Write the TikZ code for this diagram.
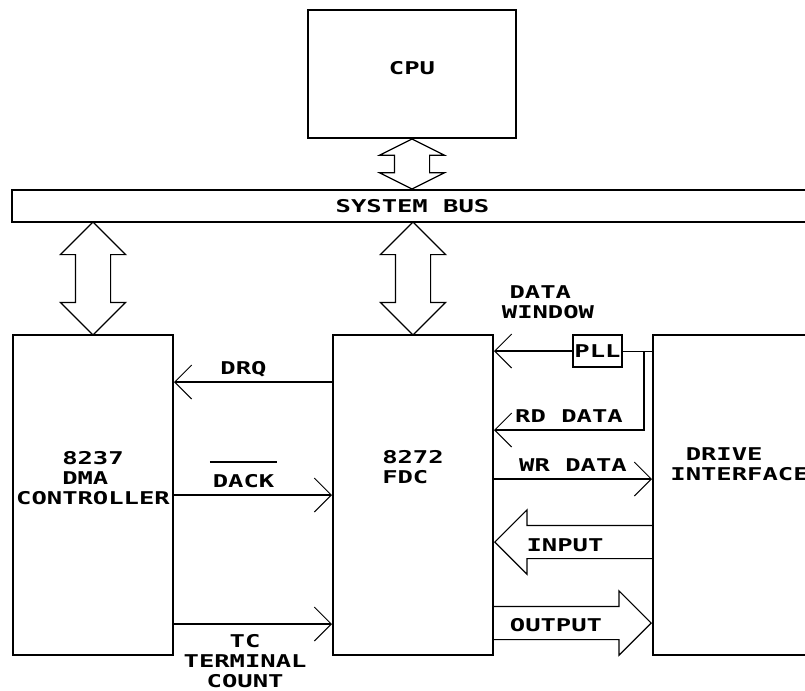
\documentclass[tikz,border=0pt]{standalone}
\usepackage{fontspec}
\newfontfamily\pixfont[FakeStretch=1.45]{DejaVu Sans Mono Bold}
\usepackage{tikz}
\usetikzlibrary{arrows.meta,positioning,calc,shapes.arrows}

\tikzset{
  blk/.style={draw,line width=1pt,inner sep=0pt},
  lbl/.style={inner sep=0pt,text height=6.4pt,text depth=0pt},
  sig/.style={line width=1pt,-{Straight Barb[length=8.5pt,width=17pt,line width=0.5pt]}},
  busarrow/.style={draw,double arrow,line width=0.6pt,inner xsep=0pt,inner ysep=8.5pt,
    double arrow head extend=7.5pt,double arrow tip angle=90,rotate=90},
  fatarrow/.style={draw,single arrow,line width=0.6pt,inner xsep=0pt,inner ysep=8pt,
    single arrow head extend=7.8pt,single arrow tip angle=90,minimum height=79pt,anchor=tip}
}

\begin{document}
\begin{tikzpicture}[x=0.5pt,y=-0.5pt,font=\pixfont\fontsize{8.8}{10}\selectfont]
\useasboundingbox (0,0) rectangle (805,691);

% blocks
\node[blk,lbl,text depth=6pt,minimum width=104pt,minimum height=64pt] (cpu) at (412,74) {CPU};
\node[blk,lbl,minimum width=400.5pt,minimum height=16pt] (bus) at (412.5,206) {SYSTEM BUS};
\node[blk,minimum width=80pt,minimum height=160pt] (dma) at (93,495) {};
\node[blk,minimum width=80pt,minimum height=160pt] (fdc) at (413,495) {};
\node[blk,minimum width=88.5pt,minimum height=160pt] (drv) at (741.5,495) {};
\node[blk,lbl,minimum width=24.5pt,minimum height=16pt] (pll) at (597.5,351) {PLL};

\node[align=center,inner sep=0pt] (dmatxt) at (93,478) {8237\\DMA\phantom{A}\\CONTROLLER};
\node[align=center,inner sep=0pt] (fdctxt) at (413,467) {8272\\FDC\phantom{A}};
\node[align=left,anchor=west,inner sep=0pt] (drvtxt) at (670,464) {\phantom{A}DRIVE\\INTERFACE};

% bus links
\node[busarrow,minimum height=25pt,double arrow tip angle=127] (cpubus) at ($(cpu.south)!0.5!(bus.north -| cpu)$) {};
\node[busarrow,minimum height=56.5pt] (dmabus) at ($(bus.south -| dma)!0.5!(dma.north)$) {};
\node[busarrow,minimum height=56.5pt] (fdcbus) at ($(bus.south -| fdc)!0.5!(fdc.north)$) {};

% dma <-> fdc
\draw[sig] ([yshift=-24pt]fdc.north west) -- ([yshift=-24pt]dma.north east)
  node[lbl,pos=0.56,above=3.5pt] (drq) {DRQ};
\draw[sig] (dma.east) -- (fdc.west) node[lbl,pos=0.44,above=3.5pt] (dack) {DACK};
\draw[line width=0.8pt] ([xshift=-1pt,yshift=5.5pt]dack.north west) -- ([xshift=1pt,yshift=5.5pt]dack.north east);
\draw[sig] ([yshift=16pt]dma.south east) -- ([yshift=16pt]fdc.south west)
  node[pos=0.45,below=4.5pt,align=center,inner sep=0pt] (tc) {TC\\TERMINAL\\COUNT};

% fdc <-> drive
\node[align=center,anchor=south,inner sep=0pt] (dwin) at (548,319) {DATA\phantom{A}\\WINDOW};
\draw (drv.west |- pll) -- (pll.east);
\draw[sig] (pll.west) -- (pll.west -| fdc.east);
\coordinate (tap) at ($(drv.west |- pll)+(-8,0)$);
\draw[sig] (tap) |- ([yshift=-48pt]fdc.north east) node[lbl,pos=0.75,above=3.5pt] (rd) {RD DATA};
\draw[sig] ([yshift=8pt]fdc.east) -- ([yshift=8pt]drv.west) node[lbl,midway,above=3.5pt] (wr) {WR DATA};

\node[fatarrow,rotate=180] (inp) at ([yshift=-23.5pt]fdc.east) {};
\node[lbl] (inptxt) at (565,545) {INPUT};
\node[fatarrow] (outp) at ([yshift=-64pt]drv.west) {};
\node[lbl] (outtxt) at (556,625) {OUTPUT};

\end{tikzpicture}
\end{document}
